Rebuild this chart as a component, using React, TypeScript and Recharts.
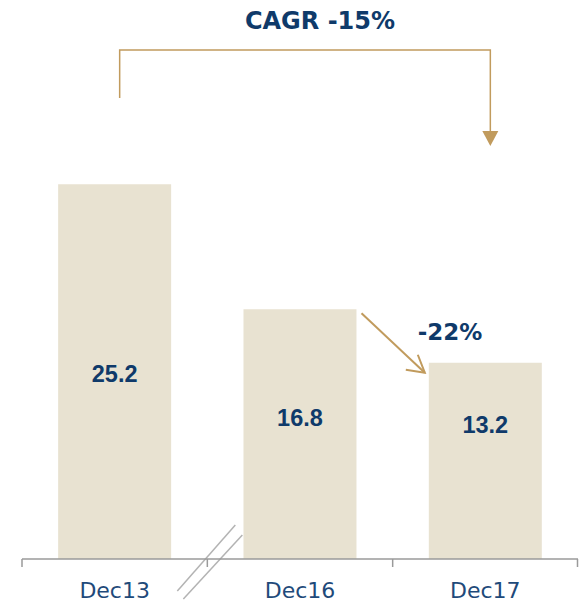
import React from "react";
import { Bar, BarChart, Customized, LabelList, XAxis, YAxis } from "recharts";

const categories = ["Dec13", "Dec16", "Dec17"];
const values = [25.2, 16.8, 13.2];
const valueLabels = ["25.2", "16.8", "13.2"];
const cagrLabel = "CAGR -15%";
const changeLabel = "-22%";

const data = categories.map((name, i) => ({ name, value: values[i], label: valueLabels[i] }));

const W = 579;
const H = 605;
const margin = { top: 113, right: 1, bottom: 0, left: 22 };
const xAxisHeight = 46;
const yMax = 30;
const plotW = W - margin.left - margin.right;
const plotH = H - margin.top - margin.bottom - xAxisHeight;
const band = plotW / categories.length;
const baseY = margin.top + plotH;
const barW = band * 0.61;

const navy = "#0f3a6a";
const tickBlue = "#1f4a7a";
const gold = "#c19b5d";
const beige = "#e8e2d1";
const axisGray = "#9a9a9a";

// label baseline height above the axis, per bar
const labelLift = [177, 133, 126];

const cx = (i: number) => margin.left + band * (i + 0.5);
const yOf = (v: number) => baseY - (v / yMax) * plotH;

const AxisTick = (props: any) => {
    const { x, y, index, payload } = props;
    const left = x - band / 2;
    const last = index === categories.length - 1;
    return (
        <g>
            <line x1={left} y1={y} x2={left} y2={y + 8} stroke={axisGray} strokeWidth={1.5} />
            {last && <line x1={x + band / 2 - 0.5} y1={y} x2={x + band / 2 - 0.5} y2={y + 8} stroke={axisGray} strokeWidth={1.5} />}
            <text x={x} y={y + 39} textAnchor="middle" fill={tickBlue} fontSize={22} fontFamily="DejaVu Sans">
                {payload.value}
            </text>
        </g>
    );
};

const ValueLabel = (props: any) => {
    const { x, width, index, value } = props;
    return (
        <text x={x + width / 2} y={baseY - labelLift[index]} textAnchor="middle" fill={navy}
            fontSize={23.5} fontWeight="bold" fontFamily="Liberation Sans, Arial">
            {value}
        </text>
    );
};

const Annotations = () => {
    const bL = cx(0) + 5;
    const bR = cx(2) + 5;
    const topY = 50;
    const tipY = 146;
    const a1x = cx(1) + barW / 2 + 5;
    const a1y = yOf(values[1]) + 4;
    const a2x = cx(2) - barW / 2 - 4;
    const a2y = yOf(values[2]) + 10;
    const brk = margin.left + band;
    return (
        <g>
            <text x={320} y={29} textAnchor="middle" fill={navy} fontSize={24} fontWeight="bold" fontFamily="DejaVu Sans">
                {cagrLabel}
            </text>
            <polyline points={`${bL},98 ${bL},${topY} ${bR},${topY} ${bR},${tipY - 15}`} fill="none" stroke={gold} strokeWidth={1.5} />
            <polygon points={`${bR - 8},${tipY - 15} ${bR + 8},${tipY - 15} ${bR},${tipY}`} fill={gold} />
            <line x1={a1x} y1={a1y} x2={a2x} y2={a2y} stroke={gold} strokeWidth={2} />
            <polyline points={`${a2x - 19},${a2y - 3} ${a2x},${a2y} ${a2x - 7},${a2y - 18}`} fill="none" stroke={gold} strokeWidth={2} />
            <text x={450} y={340} textAnchor="middle" fill={navy} fontSize={23} fontWeight="bold" fontFamily="DejaVu Sans">
                {changeLabel}
            </text>
            <line x1={brk + 28} y1={baseY - 34} x2={brk - 30} y2={baseY + 32} stroke="#b3b3b3" strokeWidth={1.5} />
            <line x1={brk + 35} y1={baseY - 24} x2={brk - 24} y2={baseY + 40} stroke="#b3b3b3" strokeWidth={1.5} />
        </g>
    );
};

export default function App() {
    return (
        <div style={{ position: "absolute", left: 0, top: 0, background: "#fff" }}>
            <BarChart width={W} height={H} data={data} margin={margin} barCategoryGap="19.5%">
                <XAxis dataKey="name" height={xAxisHeight} tickSize={0} tickMargin={0} tickLine={false}
                    axisLine={{ stroke: axisGray, strokeWidth: 1.5 }} tick={<AxisTick />} interval={0} />
                <YAxis hide domain={[0, yMax]} />
                <Bar dataKey="value" fill={beige} isAnimationActive={false}>
                    <LabelList dataKey="label" content={<ValueLabel />} />
                </Bar>
                <Customized component={Annotations} />
            </BarChart>
        </div>
    );
}
